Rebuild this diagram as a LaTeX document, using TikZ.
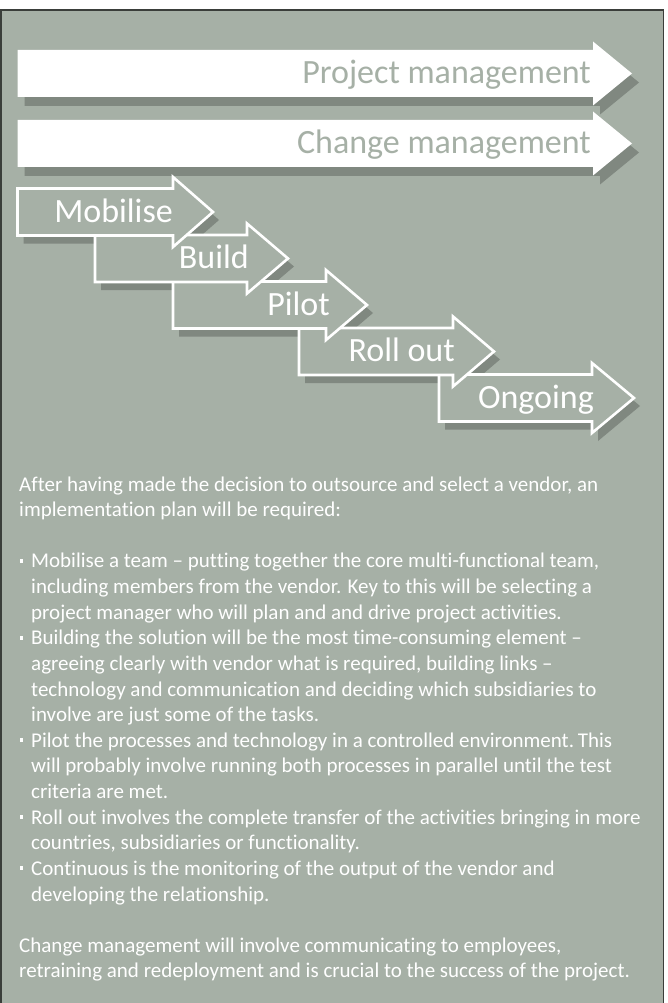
\documentclass[tikz,border=0pt]{standalone}
\usepackage{fontspec}
\setmainfont{Carlito}[Ligatures=NoCommon]
\definecolor{bg}{RGB}{166,176,166}
\definecolor{sh}{RGB}{128,136,128}
\definecolor{frame}{RGB}{58,62,58}
\newcommand\arrshp[6]{(#1,#3-#4) -- (#2,#3-#4) -- (#2,#3-#5) -- (#2+#6,#3) -- (#2,#3+#5) -- (#2,#3+#4) -- (#1,#3+#4) -- cycle}
\newcommand\bodyfont{\fontsize{21}{25.6}\selectfont}
\tikzset{
  bigtxt/.style={anchor=base east, inner sep=0pt, text=bg, font=\fontsize{34}{40}\selectfont},
  smalltxt/.style={anchor=base east, inner sep=0pt, text=white, font=\fontsize{34}{40}\selectfont},
  bodyline/.style={anchor=base west, inner sep=0pt, text=white, font=\bodyfont},
  outlined/.style={fill=bg, draw=white, line width=2.6pt, line join=miter},
}
\begin{document}
\begin{tikzpicture}[x=1pt,y=-1pt]
\useasboundingbox (0,0) rectangle (667,1003);
\fill[white] (0,0) rectangle (667,1003);
\fill[bg] (0,10) rectangle (664,1003);
\draw[frame, line width=1.6pt] (0.8,1003) -- (0.8,9.8) -- (663.6,9.8) -- (663.6,1003);

% big arrows: shadows then fills
\fill[sh, shift={(7,9)}] \arrshp{17.5}{593}{73.5}{23.5}{32}{39};
\fill[sh, shift={(7,9)}] \arrshp{17.5}{593}{143.5}{23.5}{32}{39};
\fill[white] \arrshp{17.5}{593}{73.5}{23.5}{32}{39};
\fill[white] \arrshp{17.5}{593}{143.5}{23.5}{32}{39};
\node[bigtxt] (pm) at (591,83.5) {Project management};
\node[bigtxt] (cm) at (591,153.5) {Change management};

% small arrows: shadows
\fill[sh, shift={(6,8)}] \arrshp{17.5}{173}{212}{23.5}{35}{40};
\fill[sh, shift={(6,8)}] \arrshp{95}{247}{258.5}{23.5}{35}{41};
\fill[sh, shift={(6,8)}] \arrshp{173}{326}{305}{23.5}{35}{41};
\fill[sh, shift={(6,8)}] \arrshp{299}{453}{351.5}{23.5}{35}{41};
\fill[sh, shift={(6,8)}] \arrshp{439}{592}{398}{23.5}{35}{42};
% outlined arrows, last phase first
\draw[outlined] \arrshp{439}{592}{398}{23.5}{35}{42};
\draw[outlined] \arrshp{299}{453}{351.5}{23.5}{35}{41};
\draw[outlined] \arrshp{173}{326}{305}{23.5}{35}{41};
\draw[outlined] \arrshp{95}{247}{258.5}{23.5}{35}{41};
\draw[outlined] \arrshp{17.5}{173}{212}{23.5}{35}{40};
\node[smalltxt] (mob) at (173,222) {Mobilise};
\node[smalltxt] (bld) at (249,268.5) {Build};
\node[smalltxt] (pil) at (330,315) {Pilot};
\node[smalltxt] (rol) at (455,361.5) {Roll out};
\node[smalltxt] (ong) at (594,408) {Ongoing};

% body text
\newcommand\bl[1]{491+25.63*#1}
\node[bodyline] (t1) at (19,{\bl{0}}) {After having made the decision to outsource and select a vendor, an};
\node[bodyline] (t2) at (19,{\bl{1}}) {implementation plan will be required:};
\node[bodyline] (t4) at (31,{\bl{3}}) {Mobilise a team – putting together the core multi-functional team,};
\node[bodyline] (t5) at (31,{\bl{4}}) {including members from the vendor. Key to this will be selecting a};
\node[bodyline] (t6) at (31,{\bl{5}}) {project manager who will plan and and drive project activities.};
\node[bodyline] (t7) at (31,{\bl{6}}) {Building the solution will be the most time-consuming element –};
\node[bodyline] (t8) at (31,{\bl{7}}) {agreeing clearly with vendor what is required, building links –};
\node[bodyline] (t9) at (31,{\bl{8}}) {technology and communication and deciding which subsidiaries to};
\node[bodyline] (t10) at (31,{\bl{9}}) {involve are just some of the tasks.};
\node[bodyline] (t11) at (31,{\bl{10}}) {Pilot the processes and technology in a controlled environment.\hspace{-0.12em} This};
\node[bodyline] (t12) at (31,{\bl{11}}) {will probably involve running both processes in parallel until the test};
\node[bodyline] (t13) at (31,{\bl{12}}) {criteria are met.};
\node[bodyline] (t14) at (31,{\bl{13}}) {Roll out involves the complete transfer of the activities bringing in more};
\node[bodyline] (t15) at (31,{\bl{14}}) {countries, subsidiaries or functionality.};
\node[bodyline] (t16) at (31,{\bl{15}}) {Continuous is the monitoring of the output of the vendor and};
\node[bodyline] (t17) at (31,{\bl{16}}) {developing the relationship.};
\node[bodyline] (t19) at (19,{\bl{18}}) {Change management will involve communicating to employees,};
\node[bodyline] (t20) at (19,{\bl{19}}) {retraining and redeployment and is crucial to the success of the project.};
% bullets
\foreach \k in {3,6,10,13,15}{
  \fill[white] (19.5,{\bl{\k}-9}) rectangle (23,{\bl{\k}-5});
}
\end{tikzpicture}
\end{document}
